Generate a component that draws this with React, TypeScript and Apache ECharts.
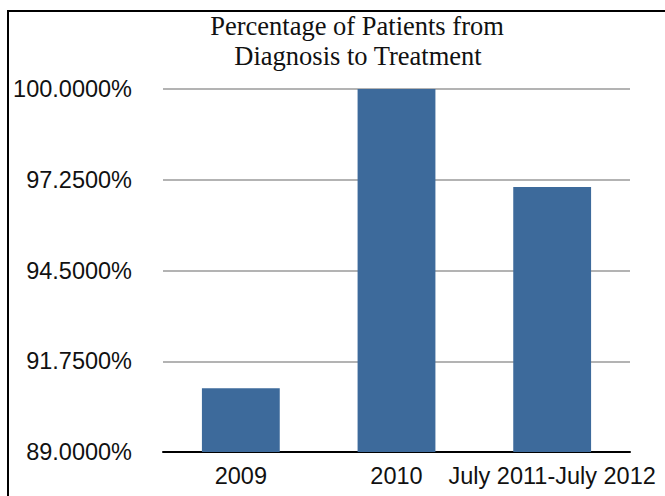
import React, { useEffect, useRef } from "react";
import * as echarts from "echarts";

const categories = ["2009", "2010", "July 2011-July 2012"];
const values = [90.93, 100.0, 97.03];
const titleLines = ["Percentage of Patients from", "Diagnosis to Treatment"];
const yMin = 89;
const yMax = 100;
const yStep = 2.75;

export default function App() {
  const ref = useRef<HTMLDivElement>(null);
  useEffect(() => {
    if (!ref.current) return;
    const chart = echarts.init(ref.current, undefined, { renderer: "svg" });
    chart.setOption({
      animation: false,
      backgroundColor: "#ffffff",
      grid: { left: 163, right: 35, top: 89, bottom: 44, containLabel: false },
      graphic: [
        {
          type: "rect",
          shape: { x: 8, y: 11, width: 700, height: 520 },
          style: { fill: "none", stroke: "#000000", lineWidth: 2 },
          silent: true,
        },
        {
          type: "text",
          x: 357,
          y: 26,
          style: {
            text: titleLines[0],
            align: "center",
            verticalAlign: "middle",
            fontFamily: "Liberation Serif",
            fontSize: 26.5,
            fill: "#111111",
          },
        },
        {
          type: "text",
          x: 358,
          y: 56,
          style: {
            text: titleLines[1],
            align: "center",
            verticalAlign: "middle",
            fontFamily: "Liberation Serif",
            fontSize: 26.5,
            fill: "#111111",
          },
        },
      ],
      xAxis: {
        type: "category",
        data: categories,
        axisLine: { show: true, lineStyle: { color: "#000000", width: 2 } },
        axisTick: { show: false },
        axisLabel: {
          margin: 12,
          fontFamily: "Liberation Sans",
          fontSize: 23.5,
          color: "#111111",
          interval: 0,
        },
      },
      yAxis: {
        type: "value",
        min: yMin,
        max: yMax,
        interval: yStep,
        axisLine: { show: false },
        axisTick: { show: false },
        splitLine: { lineStyle: { color: "#b3b3b3", width: 2 } },
        axisLabel: {
          margin: 31,
          fontFamily: "Liberation Sans",
          fontSize: 23.5,
          color: "#111111",
          formatter: (v: number) => v.toFixed(4) + "%",
        },
      },
      series: [
        {
          type: "bar",
          data: values,
          barWidth: "50%",
          itemStyle: { color: "#3d6a9b" },
        },
      ],
    });
    return () => chart.dispose();
  }, []);
  return (
    <div
      ref={ref}
      style={{ position: "fixed", left: 0, top: 0, width: 665, height: 496 }}
    />
  );
}
